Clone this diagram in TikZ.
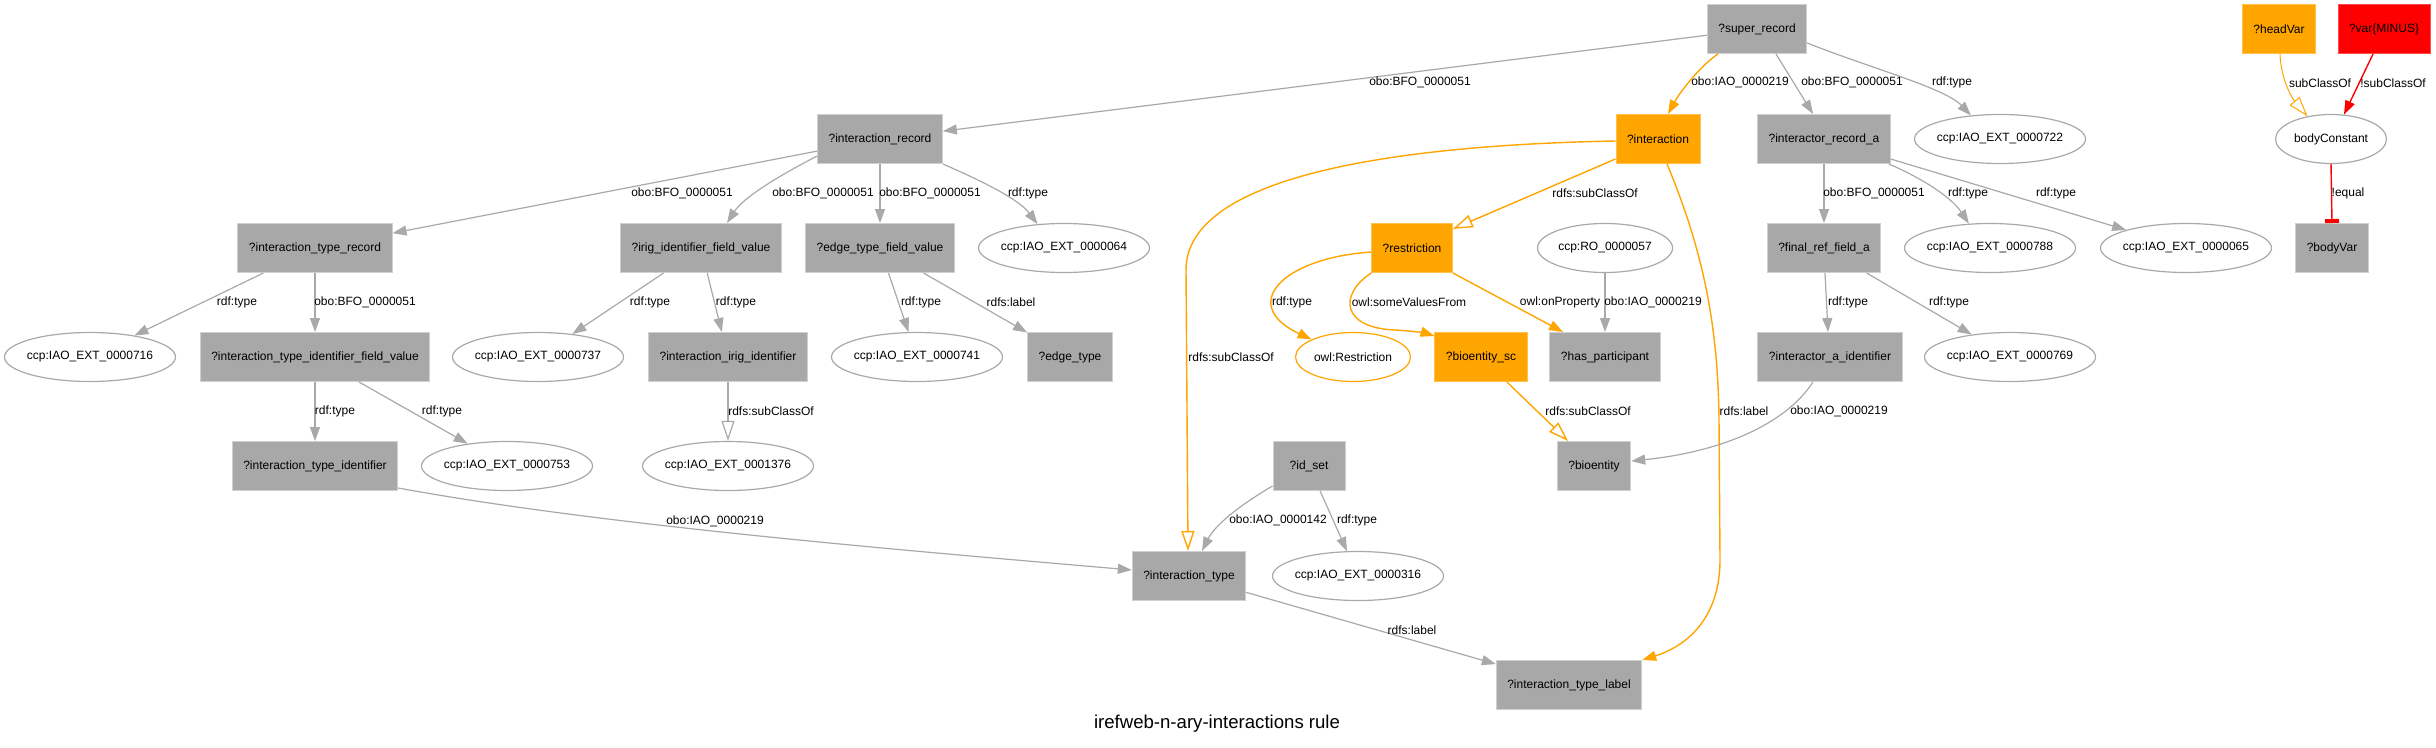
\documentclass[tikz,border=0pt]{standalone}
\usepackage{fontspec}
\setmainfont[Ligatures={NoCommon}]{Liberation Sans}
\usetikzlibrary{arrows.meta,shapes.geometric}
\definecolor{boxgray}{HTML}{A8A8A8}
\definecolor{boxedge}{HTML}{D0D0D0}
\definecolor{edgegray}{HTML}{A9A9A9}
\definecolor{ellgray}{HTML}{A9A9A9}
\definecolor{gvorange}{HTML}{FFA500}
\definecolor{orangeedge}{HTML}{FFC04D}
\definecolor{gvred}{HTML}{FF0000}
\newcommand{\zw}[1]{\makebox[0pt]{#1}}
\begin{document}
\begin{tikzpicture}[x=1pt,y=-1pt,
  every node/.style={font=\fontsize{12pt}{14pt}\selectfont, text=black},
  gbox/.style={rectangle, fill=boxgray, draw=boxedge, line width=1pt, minimum width=72pt, minimum height=49pt, inner xsep=11pt, inner ysep=0pt},
  obox/.style={gbox, fill=gvorange, draw=orangeedge},
  rbox/.style={gbox, fill=gvred, draw=gvred!70!white},
  ell/.style={ellipse, draw=ellgray, line width=1.2pt, fill=white, minimum height=49pt, inner sep=0pt, minimum width=#1},
  ell/.default=171pt,
  oell/.style={ell=#1, draw=gvorange},
  gedge/.style={draw=edgegray, line width=1.2pt, -{Triangle[length=14pt,width=10pt]}},
  gsub/.style={draw=edgegray, line width=1.2pt, -{Triangle[open,length=20pt,width=13pt]}},
  oedge/.style={draw=gvorange, line width=1.4pt, -{Triangle[length=14pt,width=10pt]}},
  osub/.style={draw=gvorange, line width=1.4pt, -{Triangle[open,length=20pt,width=13pt]}},
  osubthin/.style={draw=gvorange, line width=1pt, -{Triangle[open,length=20pt,width=13pt]}},
  redge/.style={draw=gvred, line width=1.4pt, -{Triangle[length=14pt,width=10pt]}},
  rtee/.style={draw=gvred, line width=1.4pt, -{Rectangle[length=4pt,width=14pt]}},
  lbl/.style={inner sep=1pt},
  ttl/.style={font=\fontsize{18.6pt}{22pt}\selectfont}
]
\fill[white] (0,0) rectangle (2436,747);
\useasboundingbox (0,0) rectangle (2436,747);

% ---- nodes: boxes
\node[gbox] (sr) at (1757,29) {?super\_record};
\node[obox] (hv) at (2279,29) {?headVar};
\node[rbox] (vm) at (2384,29) {?var\{MINUS\}};
\node[gbox] (ir) at (880,139) {?interaction\_record};
\node[obox] (inter) at (1658,139) {?interaction};
\node[gbox] (ira) at (1824,139) {?interactor\_record\_a};
\node[gbox] (itr) at (315,248) {?interaction\_type\_record};
\node[gbox] (irig) at (701,248) {?irig\_identifier\_field\_value};
\node[gbox] (etfv) at (880,248) {?edge\_type\_field\_value};
\node[obox] (res) at (1412,248) {?restriction};
\node[gbox] (frf) at (1824,248) {?final\_ref\_field\_a};
\node[gbox] (bv) at (2332,248) {?bodyVar};
\node[gbox] (itifv) at (315,357) {?interaction\_type\_identifier\_field\_value};
\node[gbox] (iii) at (728,357) {?interaction\_irig\_identifier};
\node[gbox] (et) at (1070,357) {?edge\_type};
\node[obox] (bsc) at (1481,357) {?bioentity\_sc};
\node[gbox] (hp) at (1605,357) {?has\_participant};
\node[gbox] (iai) at (1830,357) {?interactor\_a\_identifier};
\node[gbox] (iti) at (315,466) {?interaction\_type\_identifier};
\node[gbox] (ids) at (1309,466) {?id\_set};
\node[gbox] (be) at (1594,466) {?bioentity};
\node[gbox] (it) at (1189,576) {?interaction\_type};
\node[gbox] (itl) at (1569,685) {?interaction\_type\_label};

% ---- nodes: ellipses
\node[ell] (e722) at (2000,139) {\zw{ccp:IAO\_EXT\_0000722}};
\node[ell=111pt] (bc) at (2331,139) {\zw{bodyConstant}};
\node[ell] (e064) at (1064,248) {\zw{ccp:IAO\_EXT\_0000064}};
\node[ell=135pt] (ro) at (1605,248) {\zw{ccp:RO\_0000057}};
\node[ell] (e788) at (1990,248) {\zw{ccp:IAO\_EXT\_0000788}};
\node[ell] (e065) at (2186,248) {\zw{ccp:IAO\_EXT\_0000065}};
\node[ell] (e716) at (90,357) {\zw{ccp:IAO\_EXT\_0000716}};
\node[ell] (e737) at (538,357) {\zw{ccp:IAO\_EXT\_0000737}};
\node[ell] (e741) at (917,357) {\zw{ccp:IAO\_EXT\_0000741}};
\node[oell=115pt] (orr) at (1353,357) {\zw{owl:Restriction}};
\node[ell] (e769) at (2010,357) {\zw{ccp:IAO\_EXT\_0000769}};
\node[ell] (e753) at (507,466) {\zw{ccp:IAO\_EXT\_0000753}};
\node[ell] (e1376) at (728,466) {\zw{ccp:IAO\_EXT\_0001376}};
\node[ell] (e316) at (1358,576) {\zw{ccp:IAO\_EXT\_0000316}};

% ---- edges
\draw[gedge] (sr) -- (ir);
\draw[oedge] ([xshift=-39pt]sr.south) .. controls (1700,66) and (1680,92) .. ([xshift=10pt]inter.north);
\draw[gedge] ([xshift=19pt]sr.south) -- ([xshift=-11pt]ira.north);
\draw[gedge] ([yshift=-14pt]sr.east) .. controls (1870,68) and (1945,88) .. (e722.141);
\draw[osubthin] ([xshift=1pt]hv.south) .. controls (2281,80) and (2292,98) .. (bc.136);
\draw[redge] ([xshift=-11pt]vm.south) -- (bc.62);
\draw[rtee] (bc.south) -- (bv.north);

\draw[gedge] (ir) -- (itr);
\draw[gedge] ([yshift=-17pt]ir.west) .. controls (790,170) and (745,195) .. ([xshift=26pt]irig.north);
\draw[gedge] (ir.south) -- (etfv.north);
\draw[gedge] (ir.south east) .. controls (975,178) and (1018,198) .. (e064.138);

\draw[osub] ([yshift=-20pt]inter.west) -- ([yshift=19pt]res.east);
\draw[osub] ([yshift=-2pt]inter.west) .. controls (1400,145) and (1186,175) .. (1186,270) -- ([xshift=-1pt]it.north);
\draw[oedge] ([xshift=9pt]inter.south) .. controls (1705,255) and (1718,330) .. (1719,420) -- (1720,560) .. controls (1720,615) and (1690,645) .. (itl.north east);

\draw[gedge] (ira.south) -- (frf.north);
\draw[gedge] ([xshift=-2pt]ira.south east) .. controls (1915,175) and (1950,195) .. (e788.131);
\draw[gedge] (ira) -- (e065);

\draw[gedge] (itr) -- (e716);
\draw[gedge] (itr.south) -- (itifv.north);
\draw[gedge] (irig) -- (e737);
\draw[gedge] (irig) -- (iii);
\draw[gedge] (etfv) -- (e741);
\draw[gedge] (etfv) -- (et);

\draw[oedge] ([yshift=-4pt]res.west) .. controls (1282,258) and (1238,305) .. (orr.157);
\draw[oedge] (res.south west) .. controls (1338,295) and (1342,328) .. (1395,330) .. controls (1412,331) and (1425,333) .. ([yshift=-4pt]bsc.north west);
\draw[oedge] (res.south east) -- ([xshift=-42pt]hp.north);
\draw[gedge] (ro.south) -- (hp.north);

\draw[gedge] ([xshift=1pt]frf.south) -- ([xshift=-2pt]iai.north);
\draw[gedge] (frf) -- (e769);

\draw[gedge] (itifv.south) -- (iti.north);
\draw[gedge] (itifv) -- (e753);
\draw[gsub] (iii.south) -- (e1376.north);
\draw[osub] (bsc) -- (be);
\draw[gedge] ([xshift=-17pt]iai.south) .. controls (1785,425) and (1720,452) .. ([yshift=5pt]be.east);

\draw[gedge] ([yshift=-22pt]iti.east) .. controls (600,525) and (900,550) .. ([yshift=6pt]it.west);
\draw[gedge] ([yshift=-20pt]ids.west) .. controls (1240,505) and (1215,525) .. ([xshift=13pt]it.north);
\draw[gedge] (ids) -- (e316);
\draw[gedge] (it) -- (itl);

% ---- edge labels
\node[lbl] (l1) at (1420,82) {obo:BFO\_0000051};
\node[lbl] (l2) at (1740,82) {obo:IAO\_0000219};
\node[lbl] (l3) at (1852,82) {obo:BFO\_0000051};
\node[lbl] (l4) at (1952,82) {rdf:type};
\node[lbl] (l5) at (2320,83) {subClassOf};
\node[lbl] (l6) at (2393,83) {!subClassOf};
\node[lbl] (l7) at (682,193) {obo:BFO\_0000051};
\node[lbl] (l8) at (823,193) {obo:BFO\_0000051};
\node[lbl] (l9) at (930,193) {obo:BFO\_0000051};
\node[lbl] (l10) at (1028,193) {rdf:type};
\node[lbl] (l11) at (1595,193) {rdfs:subClassOf};
\node[lbl] (l12) at (1874,193) {obo:BFO\_0000051};
\node[lbl] (l13) at (1968,193) {rdf:type};
\node[lbl] (l14) at (2056,193) {rdf:type};
\node[lbl] (l15) at (2348,193) {!equal};
\node[lbl] (l16) at (237,302) {rdf:type};
\node[lbl] (l17) at (365,302) {obo:BFO\_0000051};
\node[lbl] (l18) at (650,302) {rdf:type};
\node[lbl] (l19) at (736,302) {rdf:type};
\node[lbl] (l20) at (921,302) {rdf:type};
\node[lbl] (l21) at (1011,302) {rdfs:label};
\node[lbl] (l22) at (1292,302) {rdf:type};
\node[lbl] (l23) at (1409,302) {owl:someValuesFrom};
\node[lbl] (l24) at (1560,302) {owl:onProperty};
\node[lbl] (l25) at (1653,302) {obo:IAO\_0000219};
\node[lbl] (l26) at (1848,302) {rdf:type};
\node[lbl] (l27) at (1949,302) {rdf:type};
\node[lbl] (l28) at (1231,357) {rdfs:subClassOf};
\node[lbl] (l29) at (335,411) {rdf:type};
\node[lbl] (l30) at (442,411) {rdf:type};
\node[lbl] (l31) at (771,411) {rdfs:subClassOf};
\node[lbl] (l32) at (1588,411) {rdfs:subClassOf};
\node[lbl] (l33) at (1744,411) {rdfs:label};
\node[lbl] (l34) at (1839,411) {obo:IAO\_0000219};
\node[lbl] (l35) at (715,521) {obo:IAO\_0000219};
\node[lbl] (l36) at (1278,520) {obo:IAO\_0000142};
\node[lbl] (l37) at (1357,520) {rdf:type};
\node[lbl] (l38) at (1412,630) {rdfs:label};

\node[ttl] (title) at (1217,724) {irefweb-n-ary-interactions rule};
\end{tikzpicture}
\end{document}
